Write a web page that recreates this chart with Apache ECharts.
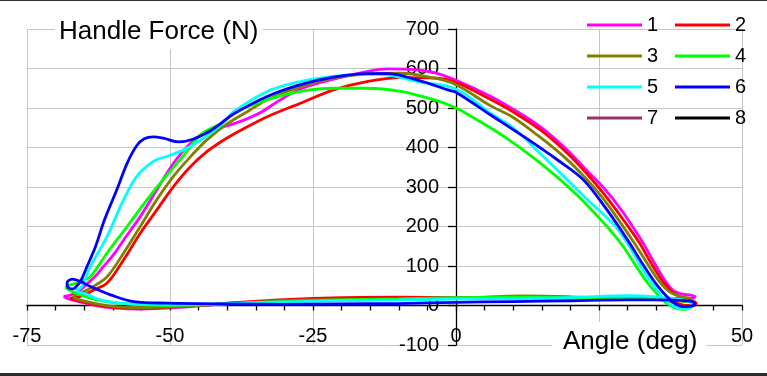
<!DOCTYPE html>
<html>
<head>
<meta charset="utf-8">
<script src="https://cdn.jsdelivr.net/npm/echarts@6/dist/echarts.min.js"></script>
<style>
html,body{margin:0;padding:0;background:#fff;}
#wrap{position:relative;width:767px;height:376px;overflow:hidden;}
#chart{position:absolute;left:0;top:0;width:767px;height:376px;}
.bt{position:absolute;left:0;top:0;width:767px;height:1px;background:#333;}
.bb{position:absolute;left:0;top:373px;width:767px;height:3px;background:#2b2b2b;}
</style>
</head>
<body>
<div id="wrap"><div id="chart"></div><div class="bt"></div><div class="bb"></div></div>
<script>
// Names of the trials
const seriesNames = ['1','2','3','4','5','6','7','8'];
const seriesColors = ['#FF00FF','#FF0000','#808000','#00FF00','#00FFFF','#0000FF','#993366','#000000'];
// Axis ticks
const xTicks = [-75, -50, -25, 0, 25, 50];
const yTicks = [-100, 0, 100, 200, 300, 400, 500, 600, 700];

// [angle (deg), handle force (N)]
const curve1 = [[-68.6,23],[-67.5,26],[-66,35],[-64.5,55],[-63,75],[-61.6,99],[-59.8,130],[-58.1,166],[-55.2,225],[-52.3,293],[-49.4,360],[-46.4,411],[-43.5,440],[-40,455],[-37,470],[-34,490],[-31,518],[-27.2,548],[-21.4,573],[-15.6,592],[-12,599],[-8,598],[-4,590],[0,570],[6,530],[10,497],[14.7,453],[19,400],[23,340],[26,295],[29,240],[32.2,170],[34.8,105],[36.6,62],[38,38],[39.5,29],[41,26],[41.8,22],[41,18],[38,18],[33,17],[25,18],[15,19],[0,19],[-10,18],[-20,17],[-30,12],[-40,5],[-47.6,-4],[-55.2,-9],[-60,-6],[-63,0],[-66,10],[-68,18],[-68.6,23]];
const curve2 = [[-67.5,18],[-66,22],[-64.5,30],[-63.5,38],[-61,57],[-58.1,116],[-55.2,183],[-52.3,242],[-49.4,301],[-46.4,352],[-43.5,390],[-40.6,419],[-37.7,443],[-33,478],[-27.2,512],[-21.4,546],[-15.6,567],[-9.7,577],[-3.9,576],[0,565],[6,522],[10,490],[14.7,445],[19,392],[22.5,340],[26,280],[29.5,212],[32,160],[34.2,105],[36.2,60],[38,32],[39.8,18],[41.3,12],[42,6],[41.5,0],[40.2,0],[38.5,6],[36,14],[32,18],[20,20],[10,21],[0,20],[-10,21],[-20,20],[-30,15],[-40,6],[-47,-2],[-55,-7],[-60,-5],[-63,2],[-66,12],[-67.5,18]];
const curve3 = [[-67,25],[-65.5,32],[-63.9,44],[-61,73],[-58.1,133],[-55.2,200],[-52.3,268],[-49.4,327],[-46.4,377],[-43.5,420],[-40,460],[-36,495],[-33,521],[-27.2,554],[-21.4,576],[-15.6,586],[-9.7,588],[-3.9,576],[0,559],[6,506],[10,476],[14.7,426],[19,375],[22.5,325],[25.5,275],[28.5,215],[31,162],[33.5,105],[35.5,62],[37.5,33],[39.5,22],[41,17],[41.3,12],[40,10],[37,14],[33,16],[28,18],[20,22],[12,24],[0,18],[-10,16],[-20,15],[-30,12],[-40,4],[-48,-2],[-55,-5],[-60,-2],[-64,8],[-66.5,18],[-67,25]];
const curve4 = [[-68.3,45],[-67.5,52],[-66,58],[-65,64],[-63.9,73],[-61,133],[-57.5,200],[-54,268],[-50.5,331],[-47,390],[-44.7,432],[-40.6,465],[-38.9,487],[-33,521],[-27.2,542],[-21.4,550],[-15.6,550],[-9.7,542],[-3.9,521],[0,500],[3,476],[6,450],[9,422],[12,391],[14.7,361],[18.5,315],[22,268],[26.4,200],[29.2,150],[31.5,99],[33.5,57],[35.5,24],[37,4],[38.5,-7],[39.8,-10],[41,-4],[41.3,5],[39.5,12],[36,16],[30,18],[20,20],[10,21],[0,20],[-10,17],[-20,14],[-30,10],[-40,4],[-50.5,0],[-59.2,6],[-63,15],[-65.1,24],[-67,35],[-68.3,45]];
const curve5 = [[-66.5,38],[-65.4,48],[-63.9,99],[-61,175],[-58.1,268],[-55.8,327],[-52.9,365],[-50.5,378],[-47.6,394],[-44.7,418],[-41.2,455],[-38.9,490],[-33,542],[-27.2,567],[-21.4,580],[-15.6,586],[-12.1,584],[-6.8,567],[0,548],[6,487],[10,450],[14.7,385],[19,325],[23,268],[27.9,200],[30.5,145],[32.3,99],[34.2,57],[36,23],[37.5,3],[39,-7],[40.3,-8],[41.3,-1],[41,8],[39,16],[35,22],[30,25],[20,20],[10,18],[0,16],[-10,14],[-20,12],[-30,9],[-40,5],[-50,3],[-56.3,3],[-62.2,14],[-64.5,28],[-66,34],[-66.5,38]];
const curve6 = [[-66.8,42],[-65.7,60],[-64.5,99],[-63,150],[-61.5,215],[-59.3,293],[-57.5,360],[-55.8,405],[-54.5,422],[-53,427],[-51,423],[-48.5,414],[-46,421],[-43,442],[-41.2,460],[-38.9,485],[-33,529],[-27.2,559],[-21.4,578],[-15.6,587],[-12,587],[-6.8,571],[-1,544],[0,540],[6,483],[11.8,428],[17.7,369],[22.3,318],[26.4,242],[29.9,168],[32.8,101],[35.1,52],[36.9,22],[38.3,5],[39.8,-3],[41,-2],[41.8,4],[41.3,10],[39,13],[35,14],[30,14],[20,12],[10,10],[0,8],[-10,5],[-20,4],[-30,3],[-40,4],[-50.5,6],[-56.4,10],[-60.4,27],[-63.9,48],[-65.7,61],[-67.1,67],[-68,57],[-67.7,44],[-66.8,42]];
const curve7 = [];
const curve8 = [];
const curves = [curve1, curve2, curve3, curve4, curve5, curve6, curve7, curve8];

const FONT = '"Liberation Sans", Arial, sans-serif';
const chart = echarts.init(document.getElementById('chart'), null, {renderer: 'canvas'});

// plot-area layout (pixels)
const G = {left: 27, right: 25, top: 29, bottom: 31, W: 767, H: 376};
const gw = G.W - G.left - G.right, gh = G.H - G.top - G.bottom;
const xMin = xTicks[0], xMax = xTicks[xTicks.length - 1];
const yMin = yTicks[0], yMax = yTicks[yTicks.length - 1];
const zeroXOffset = -gw * (0 - xMin) / (xMax - xMin);   // move y axis to x = 0
const zeroYOffset = -gh * (0 - yMin) / (yMax - yMin);   // move x axis to y = 0

const legendCommon = {
  orient: 'vertical', icon: 'rect', itemWidth: 55, itemHeight: 3, itemGap: 11, padding: 0,
  textStyle: {fontSize: 20, lineHeight: 20, color: '#000', fontFamily: FONT}, selectedMode: false
};

chart.setOption({
  animation: false,
  backgroundColor: '#fff',
  title: [
    {text: 'Handle Force (N)', left: 55, top: 15, padding: [4, 4, 4, 4], backgroundColor: '#fff',
     textStyle: {fontSize: 26, lineHeight: 26, fontWeight: 'normal', color: '#000', fontFamily: FONT}},
    {text: 'Angle (deg)', left: 552, top: 322, padding: [7, 9, 4, 11], backgroundColor: '#fff',
     textStyle: {fontSize: 26, lineHeight: 26, fontWeight: 'normal', color: '#000', fontFamily: FONT}}
  ],
  legend: [
    Object.assign({data: [seriesNames[0], seriesNames[2], seriesNames[4], seriesNames[6]], left: 587, top: 15}, legendCommon),
    Object.assign({data: [seriesNames[1], seriesNames[3], seriesNames[5], seriesNames[7]], left: 675, top: 15}, legendCommon)
  ],
  grid: {left: G.left, right: G.right, top: G.top, bottom: G.bottom, containLabel: false, outerBoundsMode: 'none'},
  xAxis: {
    type: 'value', min: xMin, max: xMax, interval: 25, position: 'bottom', offset: zeroYOffset,
    axisLine: {show: true, onZero: false, lineStyle: {color: '#000', width: 1.3}},
    axisTick: {show: true, length: 5, lineStyle: {color: '#000', width: 1.3}},
    minorTick: {show: true, splitNumber: 5, length: 5, lineStyle: {color: '#000', width: 1.3}},
    axisLabel: {margin: 21, fontSize: 20, color: '#000', fontFamily: FONT, showMinLabel: true, showMaxLabel: true},
    splitLine: {show: true, lineStyle: {color: '#c6c6c6', width: 1}}
  },
  yAxis: {
    type: 'value', min: yMin, max: yMax, interval: 100, position: 'left', offset: zeroXOffset,
    axisLine: {show: true, onZero: false, lineStyle: {color: '#000', width: 1.3}},
    axisTick: {show: true, length: 8, lineStyle: {color: '#000', width: 1.3}},
    axisLabel: {margin: 17, fontSize: 20, color: '#000', fontFamily: FONT},
    splitLine: {show: true, lineStyle: {color: '#c6c6c6', width: 1}}
  },
  series: curves.map((c, i) => ({
    name: seriesNames[i], type: 'line', data: c, smooth: 0.35, showSymbol: false, symbol: 'none',
    itemStyle: {color: seriesColors[i]},
    lineStyle: {color: seriesColors[i], width: 2.8}, z: 2 + i
  }))
});
</script>
</body>
</html>
